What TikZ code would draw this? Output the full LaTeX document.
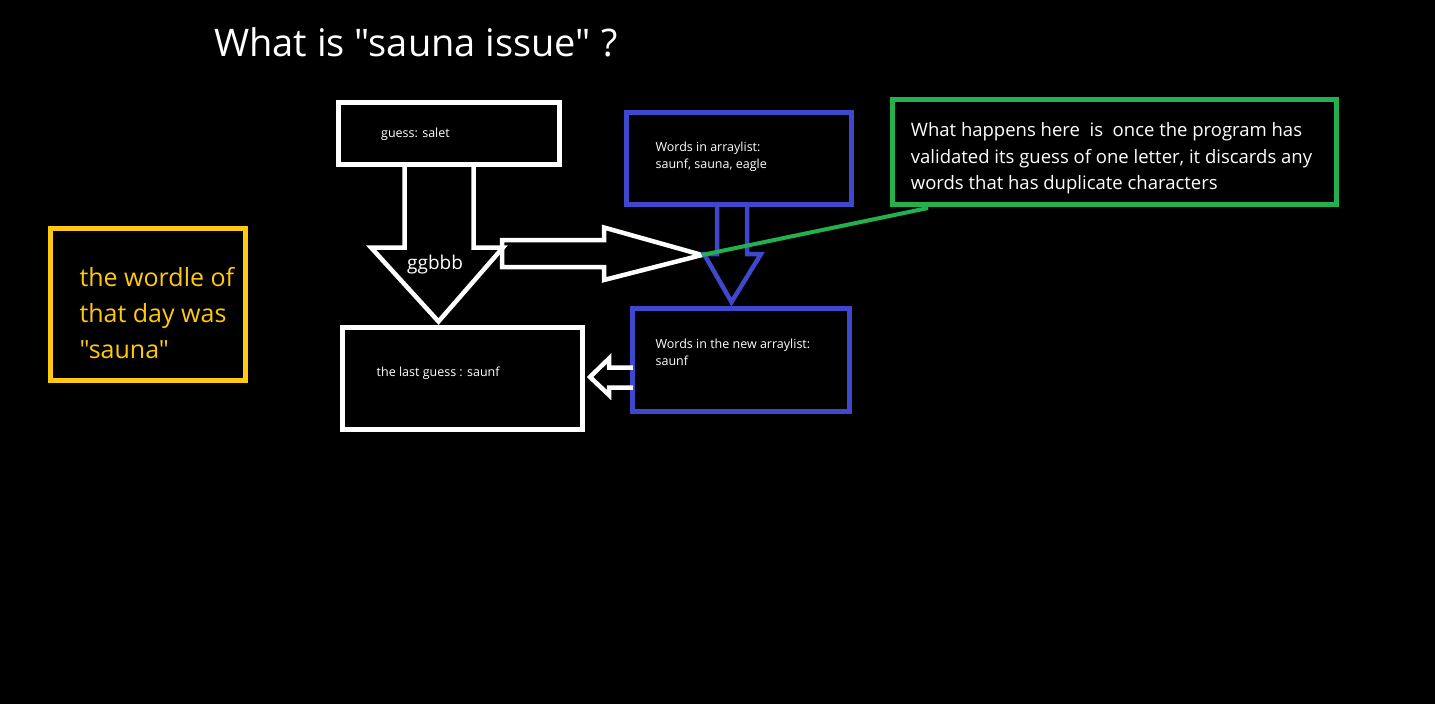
\documentclass[tikz,border=0pt]{standalone}
\usepackage{fontspec}
\setmainfont{Open Sans}[Ligatures=TeXOff]
\definecolor{paintblue}{RGB}{63,72,204}
\definecolor{paintgreen}{RGB}{34,177,76}
\definecolor{paintgold}{RGB}{255,201,14}
\tikzset{
  box/.style={draw, line width=5pt, rectangle, inner sep=0pt},
  wbox/.style={box, white},
  bbox/.style={box, paintblue},
  txt/.style={white, anchor=base west, inner sep=0pt, align=left},
  blockarrow/.style={line width=4.5pt, miter limit=6}
}
\begin{document}
\begin{tikzpicture}[x=1pt, y=-1pt]
  \fill[black] (0,0) rectangle (1435,704);
  \useasboundingbox (0,0) rectangle (1435,704);

  % title (base anchor = last line)
  \node[txt, font=\fontsize{38}{44}\selectfont] (title) at (214,56.7) {What is "sauna issue" ?};

  % boxes
  \node[wbox, minimum width=221pt, minimum height=62pt] (guess) at (449.3,133.3) {};
  \node[txt, font=\fontsize{12.5}{16}\selectfont] (guesstxt) at (381,137.3) {guess: salet};

  \node[wbox, minimum width=239.5pt, minimum height=101.7pt] (last) at (462.5,378.3) {};
  \node[txt, font=\fontsize{12.5}{16}\selectfont] (lasttxt) at (376.5,376.7) {the last guess : saunf};

  \node[bbox, minimum width=224.5pt, minimum height=92.5pt] (words) at (739.2,158.7) {};
  \node[txt, font=\fontsize{12.5}{16.3}\selectfont] (wordstxt) at (655.4,168) {Words in arraylist:\\saunf, sauna, eagle};

  \node[bbox, minimum width=216.4pt, minimum height=103.3pt] (newwords) at (741,360.1) {};
  \node[txt, font=\fontsize{12.5}{16.3}\selectfont] (newtxt) at (655.4,365) {Words in the new arraylist:\\saunf};

  \node[box, paintgold, minimum width=195.3pt, minimum height=152pt] (sol) at (148.3,304.3) {};
  \node[txt, paintgold, font=\fontsize{25}{35.8}\selectfont] (soltxt) at (79.3,358.3) {the wordle of\\that day was\\"sauna"};

  \node[box, paintgreen, minimum width=444pt, minimum height=105pt] (note) at (1114.5,152.3) {};
  \node[txt, font=\fontsize{18.5}{26.3}\selectfont] (notetxt) at (910.7,189.3) {What happens here\ \ is\ \ once the program has\\validated its guess of one letter, it discards any\\words that has duplicate characters};

  % block arrows
  \draw[blockarrow, white] (404.7,164.2) -- (404.7,247.5) -- (371,247.5) -- (438.5,321.5)
    -- (503,247.5) -- (473.5,247.5) -- (473.5,164.2);
  \node[txt, font=\fontsize{19}{22}\selectfont] (code) at (407,269) {ggbbb};

  \coordinate (tip) at (702,255);
  \draw[blockarrow, white] (502,240) -- (604,240) -- (604,227.5) -- (tip)
    -- (604,280) -- (604,267) -- (502,267) -- cycle;

  \draw[blockarrow, paintblue] (717,205) -- (717,254) -- (704,254) -- (731.5,302)
    -- (761,254) -- (747,254) -- (747,205);

  \draw[blockarrow, white] (632.8,367.5) -- (609,367.5) -- (609,358.5) -- (590,377)
    -- (609,395) -- (609,387.5) -- (632.8,387.5);

  % pointer to the note
  \coordinate (notefoot) at (928,208);
  \draw[line width=4pt, paintgreen] (tip) -- (notefoot);
\end{tikzpicture}
\end{document}
